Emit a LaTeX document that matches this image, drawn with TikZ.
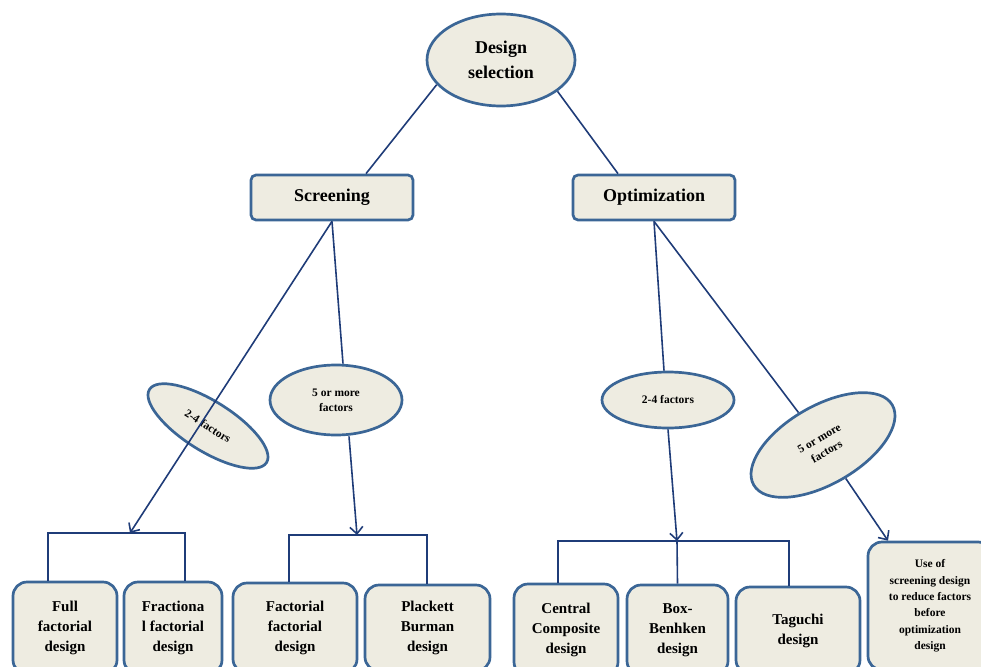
\documentclass[tikz,border=0pt]{standalone}
\usepackage{fontspec}
\setmainfont{Liberation Serif}
\usetikzlibrary{arrows.meta,shapes.geometric}
\definecolor{fillc}{HTML}{EEECE1}
\definecolor{bordc}{HTML}{3B6696}
\definecolor{linec}{HTML}{1F3C78}
\tikzset{
  ovalnode/.style={ellipse, draw=bordc, line width=2.7pt, fill=fillc, inner sep=0pt, align=center, font=\bfseries\fontsize{11.5}{15}\selectfont},
  topbox/.style={rectangle, rounded corners=5pt, draw=bordc, line width=2.7pt, fill=fillc, minimum width=162pt, minimum height=45pt, font=\bfseries\fontsize{18}{22}\selectfont},
  leafbox/.style={rectangle, rounded corners=14pt, draw=bordc, line width=2.7pt, fill=fillc, align=center, inner sep=0pt, font=\bfseries\fontsize{15}{20}\selectfont},
  conn/.style={draw=linec, line width=1.6pt},
  arr/.style={conn, -{Straight Barb[length=7pt,width=13pt]}}
}
\begin{document}
\begin{tikzpicture}[x=1pt,y=-1pt]
\useasboundingbox (0,0) rectangle (981,666);
\clip (0,0) rectangle (981,666);
% top
\node[ovalnode, minimum width=148pt, minimum height=92pt, font=\bfseries\fontsize{18}{25}\selectfont] (ds) at (501,60) {Design\\selection};
\node[topbox] (scr) at (332,197.5) {Screening};
\node[topbox] (opt) at (654,197.5) {Optimization};
% factor ovals
\node[ovalnode, minimum width=138pt, minimum height=50pt, rotate=-32] (f24L) at (208,426) {2-4 factors};
\node[ovalnode, minimum width=132pt, minimum height=70pt] (f5L) at (336,400) {5 or more\\factors};
\node[ovalnode, minimum width=132pt, minimum height=56pt] (f24R) at (668,400) {2-4 factors};
\node[ovalnode, minimum width=160pt, minimum height=78pt, rotate=30] (f5R) at (823,445) {5 or more\\factors};
% leaves
\node[leafbox, minimum width=104pt, minimum height=92pt] (ff) at (65,628) {Full\\factorial\\design};
\node[leafbox, minimum width=98pt, minimum height=92pt] (frac) at (173,628) {Fractiona\\l factorial\\design};
\node[leafbox, minimum width=124pt, minimum height=90pt] (fac) at (295,628) {Factorial\\factorial\\design};
\node[leafbox, minimum width=125pt, minimum height=86pt] (pb) at (427.5,628) {Plackett\\Burman\\design};
\node[leafbox, minimum width=104pt, minimum height=92pt] (cc) at (566,630) {Central\\Composite\\design};
\node[leafbox, minimum width=101pt, minimum height=90pt] (bb) at (677.5,630) {Box-\\Benhken\\design};
\node[leafbox, minimum width=124pt, minimum height=87pt] (tag) at (798,630.5) {Taguchi\\design};
\node[leafbox, minimum width=124pt, minimum height=128pt, font=\bfseries\fontsize{11.5}{16.4}\selectfont] (use) at (930,606) {Use of\\screening design\\to reduce factors\\before\\optimization\\design};
% bracket junctions
\coordinate (bL) at (130,533);
\coordinate (bM) at (357,535);
\coordinate (bR) at (677,541);
% connectors
\draw[conn] (ds.201) -- ([xshift=34pt]scr.north);
\draw[conn] (ds.331) -- ([xshift=-36pt]opt.north);
\draw[arr] (scr.south) -- (bL);
\draw[conn] (scr.south) -- ([xshift=7pt]f5L.north);
\draw[arr] ([xshift=13pt]f5L.south) -- (bM);
\draw[conn] (opt.south) -- ([xshift=-4pt]f24R.north);
\draw[arr] (f24R.south) -- (bR);
\draw[conn] (opt.south) -- (f5R);
\draw[arr] (f5R) -- ([xshift=-42pt]use.north);
% brackets
\draw[conn] ([xshift=-17pt]ff.north) |- (bL) -| ([xshift=12pt]frac.north);
\draw[conn] ([xshift=-6pt]fac.north) |- (bM) -| ([xshift=-0.5pt]pb.north);
\draw[conn] ([xshift=-8pt]cc.north) |- (bR) -| ([xshift=-9pt]tag.north);
\draw[conn] (bR) -- (bb.north);
\end{tikzpicture}
\end{document}
